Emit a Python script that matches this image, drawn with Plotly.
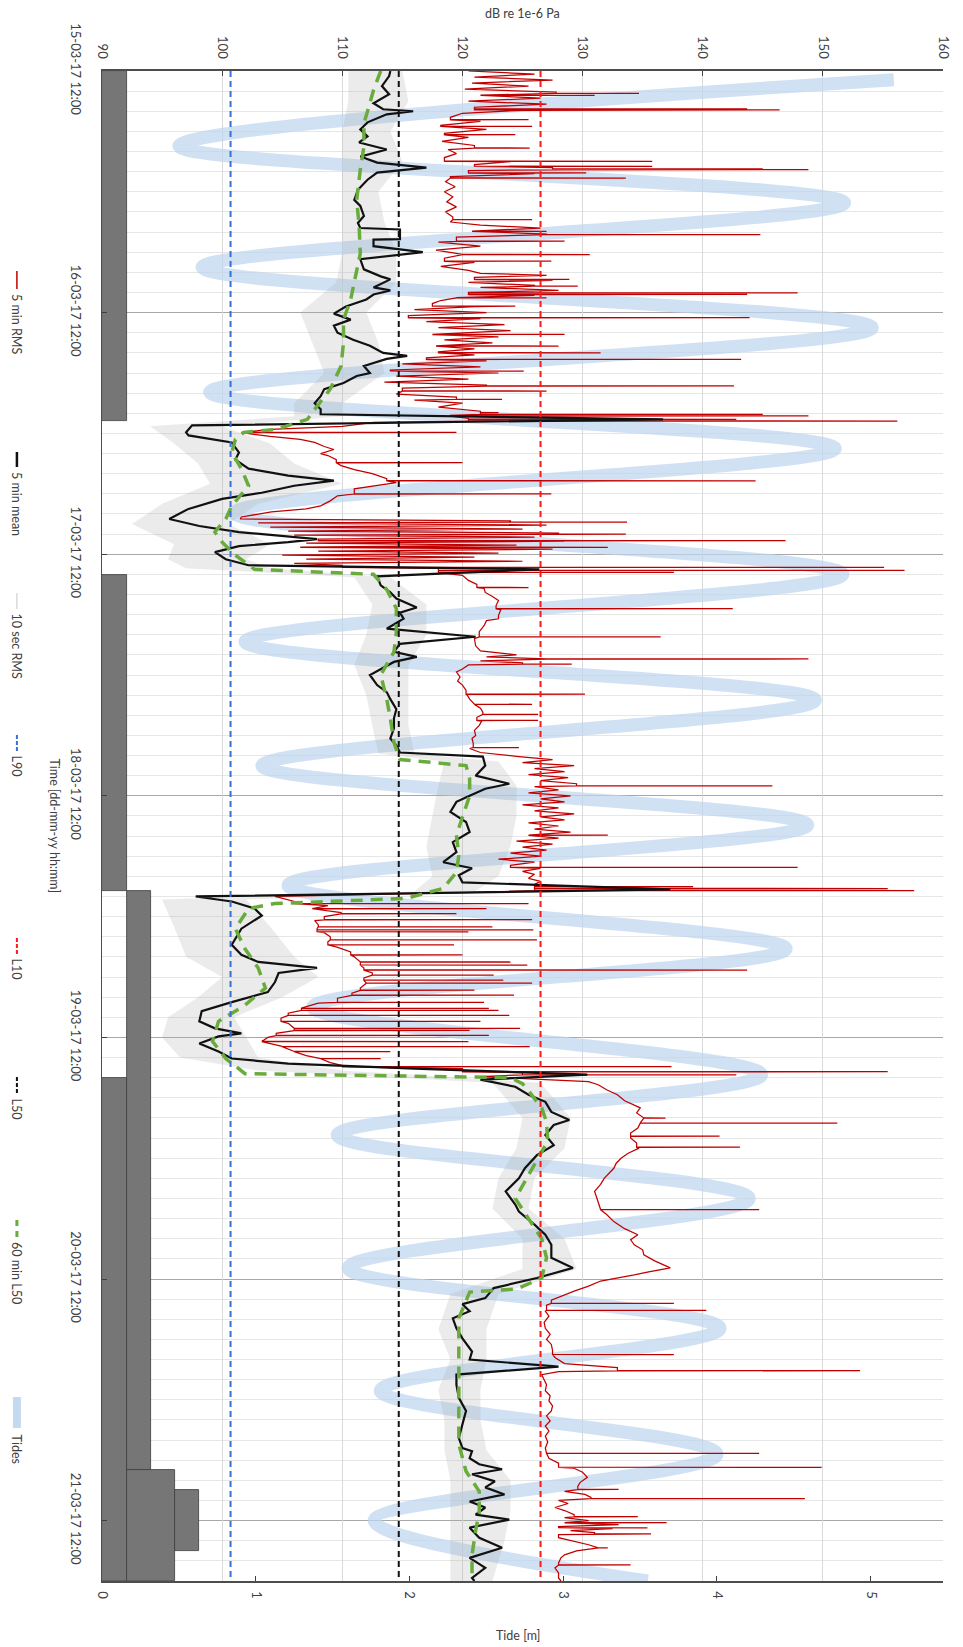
import numpy as np
import pandas as pd
import plotly.graph_objects as go
from bisect import bisect_right

# ---------------------------------------------------------------- time base
T0 = pd.Timestamp("2017-03-15 12:00")
T_END_H = 150.0

day_tick_hours = [0, 24, 48, 72, 96, 120, 144]
day_tick_labels = ["15-03-17 12:00", "16-03-17 12:00", "17-03-17 12:00", "18-03-17 12:00",
                   "19-03-17 12:00", "20-03-17 12:00", "21-03-17 12:00"]
db_ticks = [90, 100, 110, 120, 130, 140, 150, 160]
tide_ticks = [0, 1, 2, 3, 4, 5]

# ---------------------------------------------------------------- statistics levels (dB)
L90 = 100.7
L50 = 114.7
L10 = 126.5

# ---------------------------------------------------------------- 5 min mean (hours after start, dB)
mean_hours = [0.0, 0.5, 1.5, 2.3, 3.2, 3.8, 4.0, 4.3, 5.1, 5.8, 6.5, 7.1, 7.8, 8.5, 9.1, 9.6, 10.1, 10.8,
              11.8, 12.8, 13.4, 14.4, 15.1, 15.6, 15.74, 16.7, 16.75, 17.4, 18.0, 18.7, 19.7, 20.4, 20.7,
              21.5, 21.8, 22.2, 22.7, 23.4, 24.1, 24.7, 25.3, 26.0, 26.7, 27.3, 28.0, 28.3, 28.6, 29.3,
              30.0, 30.3, 31.0, 31.6, 32.3, 33.0, 33.6, 34.1, 34.6, 35.2,
              35.9, 36.2, 36.9, 37.9, 38.6, 39.5, 40.2, 40.7, 41.2, 41.9, 42.5, 43.5, 44.5, 45.2, 45.8,
              46.5, 46.8, 47.2, 47.8, 48.5, 49.1, 49.5, 50.2, 51.1, 51.8, 52.4, 53.3, 53.8, 54.4, 55.4,
              56.2, 56.9, 57.7, 58.2, 58.7, 59.4, 60.0, 61.0, 61.7, 62.4, 63.4, 64.3, 65.3, 66.3, 67.0,
              67.7, 68.1, 69.0, 70.0, 70.8, 71.3, 72.0,
              72.6, 73.6, 74.6, 75.6, 76.6, 77.6, 78.6, 79.2, 79.9, 80.6, 81.3, 82.0, 82.5, 83.2, 83.9,
              85.2, 86.8, 87.8, 88.5, 89.1, 89.6, 90.5, 91.5, 92.5, 93.4, 94.4, 95.1, 95.6, 95.9, 96.6,
              97.4, 98.1, 98.6, 99.1, 99.7, 100.2, 100.9, 101.7, 102.4, 103.4, 104.2, 104.7, 105.7,
              106.7, 107.7, 109.0, 110.0, 111.3, 112.6, 113.3, 114.6, 115.6, 116.6, 117.9, 118.9,
              119.9, 120.9, 121.9, 122.5, 123.2, 123.9, 124.9, 125.9, 127.2, 128.0, 128.7, 129.5,
              130.5, 131.8, 133.1, 134.5, 135.8, 136.8, 137.1, 137.8, 138.4, 138.9, 139.4, 140.1,
              140.7, 141.4, 142.1, 142.7, 143.4, 143.9, 144.7, 145.7, 146.7, 147.7, 148.7, 149.7, 150.0]
mean_db = [114.0, 113.9, 113.3, 113.9, 112.6, 113.4, 115.9, 113.7, 112.1, 111.5, 112.1, 111.4, 113.7, 111.5,
           112.9, 117.0, 112.9, 112.1, 111.3, 111.0, 111.5, 111.8, 111.3, 111.5, 114.8, 114.8, 112.6, 112.6,
           116.7, 111.5, 111.8, 113.2, 114.0, 112.6, 114.0, 112.6, 112.0, 110.3, 109.3, 110.7, 109.3, 109.6,
           110.9, 112.3, 113.4, 115.4, 113.7, 111.8, 112.3, 111.2, 110.1, 108.5, 108.2, 107.7, 108.2, 108.2,
           136.7, 97.5,
           97.0, 97.2, 100.8, 101.4, 101.1, 102.2, 105.5, 109.3, 106.0, 103.3, 100.0, 97.2, 95.6, 98.1, 101.4,
           107.9, 105.5, 101.4, 99.4, 100.3, 102.2, 126.4, 112.9, 113.2, 114.0, 114.5, 116.2, 114.8, 115.1,
           113.7, 121.1, 114.8, 114.3, 116.2, 114.3, 113.2, 112.3, 112.9, 113.7, 114.0, 114.5, 114.3, 114.3,
           114.0, 114.5, 114.8, 121.7, 121.9, 121.1, 123.9, 121.9, 120.6,
           119.5, 119.0, 120.3, 120.6, 119.2, 119.5, 118.4, 120.8, 119.7, 120.0, 137.3, 97.8, 100.8, 102.7,
           103.3, 101.6, 100.8, 101.6, 103.0, 107.9, 104.7, 104.4, 103.8, 100.8, 98.3, 98.1, 99.4, 101.6,
           99.7, 98.1, 99.7, 100.8, 105.5, 116.0, 130.4, 121.5, 124.4, 125.5, 126.9, 127.4, 128.9, 127.6,
           126.9, 127.6, 126.2, 125.2, 124.7, 123.6, 124.4, 124.7, 126.0, 126.9, 127.4, 127.4, 129.2, 126.2,
           122.6, 121.9, 120.0, 120.6, 119.2, 119.5, 120.0, 120.8, 120.6, 128.0, 119.5, 119.5, 119.7, 120.3,
           120.0, 119.7, 120.0, 120.8, 120.6, 121.4, 123.3, 120.8, 122.7, 121.9, 123.5, 120.6, 121.9, 121.1,
           123.9, 120.6, 121.4, 123.3, 120.6, 121.9, 120.8, 121.0]

# ---------------------------------------------------------------- 60 min L50
l50_hours = [0.0, 1.9, 3.2, 5.2, 7.5, 9.8, 12.8, 15.4, 18.1, 20.0, 22.7, 24.7, 27.0, 29.3, 31.6, 33.3, 34.6,
             35.6, 35.9, 36.6, 37.9, 39.5, 41.2, 43.2, 44.5, 45.8, 46.8, 48.1, 49.5, 50.0, 51.5, 53.4, 55.8,
             57.7, 60.0, 62.4, 64.3, 66.7, 68.4, 69.0, 70.3, 72.0, 74.0, 75.9, 77.9, 79.6, 81.2, 82.2, 82.7,
             83.2, 85.2, 87.2, 89.1, 91.1, 92.8, 94.4, 96.4, 98.1, 99.6, 100.0, 100.6, 101.0, 103.0, 104.4,
             106.3, 108.0, 110.0, 112.0, 114.0, 116.0, 117.9, 119.9, 121.0, 121.3, 123.9, 126.5, 129.8,
             133.1, 136.4, 139.1, 141.1, 143.1, 145.0, 147.4, 149.7, 150.0]
l50_db = [113.2, 112.6, 112.3, 111.8, 111.8, 111.5, 111.2, 111.4, 111.5, 111.2, 110.7, 110.1, 110.1, 109.9,
          109.0, 107.9, 107.1, 104.5, 101.8, 101.1, 100.8, 101.6, 102.2, 100.8, 100.3, 99.4, 100.0, 101.1,
          102.7, 112.6, 113.7, 114.5, 114.5, 114.3, 113.2, 113.7, 114.0, 114.3, 114.8, 120.3, 120.6, 120.6,
          120.0, 119.5, 119.7, 119.5, 118.4, 115.3, 104.4, 102.2, 101.1, 101.9, 103.0, 103.6, 101.9, 99.7,
          99.2, 100.3, 101.9, 124.0, 125.0, 125.3, 126.6, 127.0, 127.1, 126.3, 125.3, 124.4, 125.5, 126.6,
          127.0, 126.6, 124.5, 120.6, 119.7, 119.7, 119.7, 119.7, 119.7, 120.3, 121.4, 121.4, 121.1, 120.8,
          120.8, 120.8]

# ---------------------------------------------------------------- 10 sec RMS envelope
rms10_hours = [0, 3, 6, 9, 12, 15, 18, 21, 24, 27, 30, 33, 34.3, 35.3, 37, 39, 41, 43, 45, 47, 48.5, 49.4,
               50.3, 53, 56, 59, 62, 65, 67.8, 68.6, 71, 74, 77, 80, 81.5, 82.3, 85, 88, 90, 92, 94, 96, 98,
               99.3, 100.5, 104, 107, 110, 113, 116, 119, 121.5, 125, 128, 131, 134, 137, 140, 143, 146, 150]
rms10_low = [110.5, 110.5, 110.0, 110.0, 110.0, 110.0, 110.0, 109.5, 106.5, 107.5, 108.5, 106.0, 106.0, 94.0,
             96.0, 98.0, 99.0, 95.0, 92.5, 96.0, 95.5, 97.0, 111.0, 112.5, 112.0, 111.0, 112.0, 112.5, 113.0,
             118.5, 118.0, 117.5, 117.0, 117.5, 116.0, 95.0, 96.0, 97.0, 100.0, 98.0, 95.5, 95.0, 96.5, 103.0,
             122.5, 125.0, 124.5, 123.0, 122.5, 125.0, 125.0, 119.0, 118.0, 119.0, 118.0, 118.5, 118.5, 119.0,
             119.0, 119.0, 119.0]
rms10_high = [115.0, 115.5, 114.0, 115.0, 113.0, 113.5, 114.5, 114.5, 112.0, 113.0, 113.5, 110.0, 110.0, 100.0,
              104.0, 106.0, 110.0, 103.0, 100.5, 104.0, 102.0, 104.0, 114.0, 117.0, 117.0, 115.5, 115.5, 115.5,
              116.0, 123.0, 124.5, 124.5, 124.0, 123.0, 121.0, 102.0, 104.0, 106.0, 108.0, 105.0, 101.0, 102.0,
              103.0, 110.0, 126.5, 129.0, 128.5, 126.0, 125.5, 128.5, 129.5, 123.0, 122.0, 122.0, 121.5, 121.5,
              122.0, 124.0, 124.0, 123.5, 122.5]

# ---------------------------------------------------------------- 5 min RMS: running level
rms5_hours = [0.0, 0.3, 0.6, 0.9, 1.2, 1.5, 1.8, 2.1, 2.4, 2.7, 3.0, 3.3, 3.6, 3.9, 4.2, 4.6, 5.0, 5.4, 5.8,
              6.2, 6.6, 7.0, 7.4, 7.8, 8.2, 8.6, 9.0, 9.3, 9.6, 9.9, 10.2, 10.5, 11.0, 11.5, 12.0, 12.5, 13.0,
              13.5, 14.0, 14.5, 15.0, 15.3, 15.6, 15.9, 16.2, 16.5, 17.0, 17.4, 17.8, 18.2, 18.6, 19.0, 19.4,
              19.8, 20.1, 20.3, 20.5, 20.8, 21.0, 21.3, 21.5, 21.8, 22.0, 22.3, 22.5, 22.8, 23.1, 23.4, 23.7,
              24.0, 24.3, 24.6, 24.9, 25.2, 25.5, 25.8, 26.1, 26.4, 26.7, 27.0, 27.3, 27.6, 27.9, 28.2, 28.5,
              28.8, 29.1, 29.4, 29.7, 30.0, 30.3, 30.6, 30.9, 31.2, 31.5, 31.8, 32.1, 32.4, 32.7, 33.0, 33.4,
              33.8, 34.2, 34.5, 34.9, 35.3, 35.6,
              35.9, 36.3, 36.6, 36.9, 37.3, 37.6, 38.0, 38.2, 38.6, 39.2, 39.6, 40.0, 40.5, 40.9, 41.2, 41.5,
              42.2, 42.7, 43.2, 43.5, 43.8, 44.3, 44.5, 44.7, 44.9, 45.1, 45.3, 45.5, 45.7, 45.9, 46.1, 46.3,
              46.5, 46.7, 46.9, 47.1, 47.3, 47.5, 47.7, 47.9, 48.1, 48.3, 48.5, 48.7, 48.9, 49.1, 49.4, 50.1,
              50.6, 51.0, 51.4, 51.8, 52.2, 52.6, 53.1, 53.5, 54.1, 54.6, 55.1, 55.7, 56.4, 57.1, 57.6, 58.0,
              58.2, 58.4, 58.6, 58.8, 59.0, 59.4, 59.7, 60.2, 60.6, 61.0, 61.5, 62.0, 62.4, 62.9, 63.3, 63.7,
              64.2, 64.6, 65.0, 65.5, 66.0, 66.3, 66.8, 67.3, 67.7, 68.1, 68.4, 68.7, 69.0, 69.3, 69.6, 69.9,
              70.2, 70.5, 70.8, 71.1, 71.4, 71.7, 72.0, 72.3, 72.6, 72.9, 73.2, 73.5, 73.8, 74.1, 74.4, 74.7,
              75.0, 75.3, 75.6, 75.9, 76.2, 76.5, 76.8, 77.1, 77.4, 77.7, 78.0, 78.3, 78.6, 78.9, 79.2, 79.5,
              79.8, 80.2, 80.5, 80.8, 81.6, 82.0, 82.5, 82.9, 83.2, 83.6, 84.0, 84.4, 84.8, 85.2, 85.6, 86.0,
              86.5, 87.0, 87.5, 88.0, 88.5, 89.1, 89.6, 90.1, 90.6, 91.1, 91.6, 92.1, 92.6, 93.1, 93.6, 94.1,
              94.6, 95.1, 95.6, 96.0, 96.4, 96.9, 97.4, 97.8, 98.1, 98.5, 98.8, 99.1, 99.5, 99.9, 100.4, 100.7,
              101.2, 101.7, 102.3, 103.0, 103.5, 104.0, 104.5, 105.0, 105.5, 106.0, 106.5, 107.0, 107.5, 108.0,
              108.5, 109.0, 109.5, 110.0, 110.6, 111.3, 112.0, 113.0, 113.6, 114.3, 115.0, 115.6, 116.1, 116.6,
              117.1, 117.6, 118.2, 118.9, 119.3, 119.6, 120.2, 120.7, 121.2, 121.6, 122.1, 122.6, 123.2, 123.7,
              124.3, 124.9, 125.5, 126.0, 126.5, 127.1, 127.8, 128.4, 128.8, 129.2, 129.5, 130.0, 130.5, 131.1,
              131.6, 132.1, 132.6, 133.1, 133.6, 134.1, 134.6, 135.1, 135.6, 136.2, 136.8, 137.3, 137.8, 138.3,
              138.8, 139.2, 139.7, 140.2, 140.6, 141.1, 141.4, 141.7, 142.0, 142.3, 142.7, 143.0, 143.4, 143.7,
              144.0, 144.2, 144.4, 144.6, 144.8, 145.0, 145.2, 145.4, 145.7, 146.1, 146.4, 146.7, 147.0, 147.4,
              147.7, 148.2, 148.7, 149.2, 149.7, 150.0]
rms5_db = [120.5, 126.0, 121.0, 127.5, 120.8, 125.5, 120.2, 127.8, 121.5, 126.5, 120.5, 127.0, 121.0, 125.0,
           120.0, 119.0, 121.5, 118.2, 122.0, 118.5, 120.5, 118.3, 121.0, 118.8, 119.5, 118.5, 124.0, 121.0,
           127.5, 120.5, 126.0, 119.0, 118.6, 119.4, 118.5, 119.2, 118.7, 119.5, 118.6, 119.2, 119.0, 121.5,
           126.5, 120.8, 127.0, 119.5, 118.0, 121.5, 117.8, 120.0, 118.5, 121.0, 118.2, 120.5, 121.5, 127.0,
           121.0, 127.5, 120.5, 126.0, 121.5, 128.0, 120.5, 126.0, 119.5, 118.2, 117.5, 121.0, 116.0, 122.0,
           115.5, 121.5, 117.0, 123.5, 118.0, 124.0, 117.5, 123.0, 118.5, 122.5, 117.8, 121.0, 118.0, 121.0,
           117.0, 122.0, 115.0, 121.5, 114.0, 123.0, 114.5, 120.5, 113.5, 122.0, 115.0, 121.0, 114.5, 119.5,
           116.0, 120.0, 118.0, 121.5, 119.0, 120.5, 112.6, 110.0, 104.0,
           101.6, 104.0, 106.5, 107.7, 108.5, 109.3, 108.2, 108.8, 109.5, 109.9, 111.0, 112.5, 113.7, 114.5,
           112.5, 111.0, 109.6, 109.0, 108.2, 107.0, 104.1, 101.6, 101.5, 124.0, 103.0, 127.0, 104.0, 125.0,
           105.5, 128.0, 106.0, 126.0, 108.0, 128.5, 107.0, 124.5, 106.5, 127.5, 108.0, 123.0, 105.0, 121.0,
           107.0, 125.0, 106.0, 110.0, 118.0, 120.0, 120.5, 121.2, 121.8, 121.9, 122.5, 123.0, 122.8, 123.2,
           123.0, 122.0, 121.8, 121.4, 121.0, 121.1, 121.5, 124.5, 122.0, 127.0, 121.5, 125.0, 120.5, 120.0,
           119.5, 119.8, 119.6, 120.0, 120.3, 120.4, 120.6, 121.0, 121.5, 121.7, 121.2, 121.6, 121.4, 121.0,
           121.1, 120.8, 120.9, 120.6, 121.5, 124.7, 127.5, 125.0, 129.3, 126.0, 128.5, 125.5, 128.8, 126.5,
           129.5, 126.0, 128.0, 125.5, 129.0, 126.5, 128.5, 125.0, 128.0, 126.0, 129.3, 126.5, 128.5, 125.5,
           128.0, 126.0, 129.0, 125.5, 128.0, 124.5, 127.5, 125.0, 127.0, 124.0, 126.5, 123.0, 126.0, 124.0,
           126.5, 125.0, 126.0, 125.5, 126.5, 126.0, 121.0, 104.4, 106.0, 108.8, 107.5, 109.9, 108.5, 107.7,
           108.0, 107.9, 108.5, 109.0, 108.8, 109.5, 110.7, 111.0, 111.5, 111.8, 112.5, 111.8, 112.0, 111.5,
           110.8, 109.6, 108.0, 106.6, 105.5, 104.9, 105.5, 106.0, 104.5, 103.8, 103.3, 105.0, 106.0, 107.0,
           108.2, 109.0, 110.0, 120.0, 125.0, 121.5, 130.5, 131.3, 132.0, 132.9, 133.5, 134.8, 134.5, 135.1,
           134.8, 134.6, 134.0, 134.0, 134.5, 134.7, 133.8, 133.2, 132.8, 132.6, 132.2, 131.8, 131.5, 131.0,
           131.2, 131.5, 132.0, 132.6, 133.5, 134.6, 134.0, 134.3, 135.0, 135.1, 136.0, 137.3, 135.5, 134.3,
           131.5, 130.5, 129.3, 128.5, 127.4, 127.0, 126.9, 127.2, 126.8, 126.9, 127.3, 127.0, 127.4, 127.5,
           127.7, 128.5, 132.9, 128.0, 126.6, 126.8, 127.0, 126.9, 127.3, 127.2, 127.5, 127.4, 127.0, 127.3,
           126.9, 127.2, 126.9, 127.1, 126.9, 127.0, 127.2, 128.0, 129.3, 130.0, 130.4, 129.8, 129.6, 128.5,
           130.2, 130.7, 128.0, 128.8, 127.7, 128.5, 129.3, 128.5, 130.5, 128.5, 133.0, 128.0, 132.5, 129.0,
           131.0, 128.0, 128.0, 129.5, 130.5, 131.3, 129.5, 128.5, 128.2, 128.0, 127.7, 128.0, 128.0, 128.2]

# ---------------------------------------------------------------- 5 min RMS: short events (hours, peak dB)
event_hours = [2.2, 2.4, 3.75, 3.85, 4.83, 5.49, 6.32, 7.64, 8.96, 9.46, 9.7, 9.79, 10.12, 10.62, 14.75,
               15.91, 16.24, 16.9, 18.22, 18.88, 20.7, 21.36, 22.02, 22.19, 22.52, 23.35, 24.5, 26.16, 27.31,
               27.98, 28.64, 29.8, 31.28, 31.78, 32.6, 33.93, 34.1, 34.26, 34.59, 34.76,
               35.9, 38.9, 40.7, 42.0, 44.8, 46.0, 46.65, 47.3, 49.3, 49.6, 49.8, 51.3, 53.4, 54.4, 56.2,
               58.4, 58.9, 61.9, 62.9, 63.9, 64.5, 67.2, 71.0,
               75.9, 79.1, 81.0, 81.2, 81.4, 82.7, 83.2, 83.7, 84.3, 85.0, 85.3, 85.5, 86.3, 86.8, 87.8,
               88.5, 88.8, 89.3, 89.8, 90.3, 90.6, 91.3, 91.8, 92.5, 93.1, 93.3, 93.8, 94.4, 95.1, 95.3,
               95.8, 96.4, 96.9, 97.4, 98.1, 98.9, 99.4, 99.7, 104.0, 104.5, 105.8, 106.9,
               113.1, 122.4, 123.1, 127.5, 129.1, 137.3, 138.7, 140.9, 141.8, 143.6, 144.2, 144.7, 145.3,
               146.7, 148.4]
event_db = [134.7, 131.0, 143.7, 146.4, 125.5, 125.8, 124.4, 125.6, 135.8, 135.8, 145.0, 148.8, 130.3, 133.6,
            125.8, 127.0, 144.8, 128.5, 130.6, 127.4, 128.9, 129.6, 147.9, 143.7, 127.0, 124.4, 143.9, 128.5,
            128.0, 131.5, 143.2, 125.1, 142.6, 127.0, 123.3, 123.0, 145.0, 148.8, 142.8, 156.2,
            119.5, 120.0, 144.4, 127.4, 133.7, 133.6, 146.9, 132.1, 155.1, 156.8, 137.6, 125.5, 142.5, 123.0,
            136.5, 148.8, 129.1, 130.2, 125.8, 126.3, 126.3, 124.7, 145.8,
            132.1, 147.9, 139.2, 155.4, 157.6, 125.5, 122.0, 119.5, 125.8, 122.5, 125.9, 120.5, 126.2, 119.3,
            120.0, 124.0, 125.4, 143.7, 122.6, 123.4, 125.8, 121.0, 124.3, 121.8, 122.2, 123.0, 123.9, 121.5,
            124.8, 120.6, 122.2, 120.5, 125.6, 114.0, 113.2, 137.4, 155.4, 142.8, 136.9, 151.2, 141.4, 143.1,
            144.7, 137.6, 140.3, 137.6, 153.1, 144.7, 149.9, 133.0, 148.5, 134.6, 137.0, 135.4, 135.7,
            132.1, 134.0]

# ---------------------------------------------------------------- tide extremes (hours, m)
tide_hours = [0.86, 7.47, 13.1, 19.5, 25.5, 31.9, 37.5, 43.9, 50.0, 56.7, 62.5, 69.0, 74.9, 80.9, 87.2, 93.0,
              99.7, 105.7, 112.0, 118.9, 124.9, 131.1, 137.4, 144.0, 150.0]
tide_m = [5.15, 0.50, 4.83, 0.65, 5.01, 0.70, 4.77, 0.86, 4.82, 0.93, 4.64, 1.04, 4.59, 1.21, 4.45, 1.37,
          4.29, 1.53, 4.21, 1.60, 4.02, 1.81, 4.00, 1.77, 3.55]

# ---------------------------------------------------------------- grey blocks on the tide scale
block_start = [0.0, 50.06, 100.0, 81.5, 139.0, 141.0]
block_end = [34.75, 81.5, 150.0, 139.0, 150.0, 147.0]
block_base = [0.0, 0.0, 0.0, 0.16, 0.16, 0.476]
block_size = [0.16, 0.16, 0.16, 0.16, 0.316, 0.155]


def at(hours):
    return [T0 + pd.Timedelta(hours=float(h)) for h in hours]


# merge the short events into the running 5 min RMS level
pts = list(zip(rms5_hours, rms5_db))
for h, peak in zip(event_hours, event_db):
    foot = rms5_db[max(bisect_right(rms5_hours, h) - 1, 0)]
    pts += [(h, foot), (h + 0.01, peak), (h + 0.02, foot)]
pts.sort(key=lambda p: p[0])
rms5_all_h = [p[0] for p in pts]
rms5_all_db = [p[1] for p in pts]

RED = "#c00000"
BLACK = "#111111"
GREEN = "#6aab3e"
BLUE = "#3a6fd6"
LRED = "#ff1a1a"
TIDE = "rgba(190,214,238,0.72)"
GREY_BAND = "rgba(170,170,170,0.24)"
BAR = "#767676"

fig = go.Figure()

# blocks (tide scale, bottom axis)
for s, e, b, v in zip(block_start, block_end, block_base, block_size):
    mid = T0 + pd.Timedelta(hours=(s + e) / 2)
    fig.add_trace(go.Bar(orientation="h", y=[mid], x=[v], base=[b],
                         width=[(e - s) * 3600 * 1000], xaxis="x", yaxis="y",
                         marker=dict(color=BAR, line=dict(color="#3c3c3c", width=0.8)),
                         hoverinfo="skip", showlegend=False))

# tides
fig.add_trace(go.Scatter(x=tide_m, y=at(tide_hours), mode="lines", name="Tides",
                         line=dict(color=TIDE, width=13, shape="spline", smoothing=1.0),
                         xaxis="x", yaxis="y"))

# 10 sec RMS envelope
fig.add_trace(go.Scatter(x=rms10_low + rms10_high[::-1],
                         y=at(rms10_hours) + at(rms10_hours[::-1]),
                         mode="lines", fill="toself", fillcolor=GREY_BAND,
                         line=dict(width=0, color=GREY_BAND), name="10 sec RMS",
                         xaxis="x2", yaxis="y"))

fig.add_trace(go.Scatter(x=rms5_all_db, y=at(rms5_all_h), mode="lines", name="5 min RMS",
                         line=dict(color=RED, width=1.25), xaxis="x2", yaxis="y"))
fig.add_trace(go.Scatter(x=mean_db, y=at(mean_hours), mode="lines", name="5 min mean",
                         line=dict(color=BLACK, width=2.2), xaxis="x2", yaxis="y"))
fig.add_trace(go.Scatter(x=l50_db, y=at(l50_hours), mode="lines", name="60 min L50",
                         line=dict(color=GREEN, width=3.5, dash="12px,8px"), xaxis="x2", yaxis="y"))

span = at([0, T_END_H])
for val, col, nm in [(L90, BLUE, "L90"), (L10, LRED, "L10"), (L50, BLACK, "L50")]:
    fig.add_trace(go.Scatter(x=[val, val], y=span, mode="lines", name=nm,
                             line=dict(color=col, width=2, dash="6px,4px"), xaxis="x2", yaxis="y"))

# ---------------------------------------------------------------- layout
PL, PR, PT, PB = 102, 952, 71, 1581
W, H = 963, 1647
FONT = "Lato, 'Open Sans', sans-serif"
TXT = "#404040"


def fx(X):
    return (X - PL) / (PR - PL)


def fy(Y):
    return 1 - (Y - PT) / (PB - PT)


fig.update_layout(
    width=W, height=H,
    margin=dict(l=PL, r=W - PR, t=PT, b=H - PB),
    paper_bgcolor="white", plot_bgcolor="white",
    showlegend=False, bargap=0, barmode="overlay",
    font=dict(family=FONT, size=13, color=TXT),
    xaxis=dict(side="bottom", anchor="y", range=[0, 5.47], tickvals=tide_ticks,
               tickangle=90, ticks="inside", ticklen=5, tickcolor="#404040",
               showgrid=False, zeroline=False, showline=True, linecolor="#4d4d4d", linewidth=1.5,
               ticklabelstandoff=6),
    xaxis2=dict(side="top", overlaying="x", anchor="y", range=[90, 160], tickvals=db_ticks,
                tickangle=90, ticks="inside", ticklen=5, tickcolor="#404040",
                showgrid=True, gridcolor="#d9d9d9", gridwidth=1, zeroline=False,
                showline=True, linecolor="#4d4d4d", linewidth=1.5, ticklabelstandoff=6),
    yaxis=dict(type="date", range=[T0 + pd.Timedelta(hours=T_END_H), T0],
               tickvals=at(day_tick_hours), ticktext=day_tick_labels, tickangle=90,
               ticks="inside", ticklen=5, tickcolor="#404040",
               showgrid=True, gridcolor="#a8a8a8", gridwidth=1, zeroline=False,
               showline=True, linecolor="#4d4d4d", linewidth=1, ticklabelstandoff=14,
               minor=dict(tickmode="linear", tick0=T0, dtick=2 * 3600 * 1000,
                          showgrid=True, gridcolor="#e6e6e6", gridwidth=1)),
)

ann = []
ann.append(dict(text="dB re 1e-6 Pa", x=0.5, y=fy(13), xref="paper", yref="paper",
                showarrow=False, font=dict(size=12.5, color=TXT), xanchor="center", yanchor="middle"))
ann.append(dict(text="Tide [m]", x=fx(522), y=fy(1635), xref="paper", yref="paper",
                showarrow=False, font=dict(size=12.5, color=TXT), xanchor="center", yanchor="middle"))
ann.append(dict(text="Time [dd-mm-yy hh:mm]", x=fx(55), y=fy(826), xref="paper", yref="paper",
                showarrow=False, textangle=90, font=dict(size=12.5, color=TXT),
                xanchor="center", yanchor="middle"))

# legend, drawn along the left edge
legend_items = [
    ("5 min RMS", 271, 289, dict(color=RED, width=1.5), 292),
    ("5 min mean", 452, 467, dict(color=BLACK, width=2.5), 470),
    ("10 sec RMS", 593, 609, dict(color="#cfcfcf", width=1.2), 612),
    ("L90", 735, 751, dict(color=BLUE, width=2, dash="4px,2px"), 754),
    ("L10", 938, 954, dict(color=LRED, width=2, dash="4px,2px"), 957),
    ("L50", 1077, 1094, dict(color=BLACK, width=2, dash="4px,2px"), 1097),
    ("60 min L50", 1220, 1238, dict(color=GREEN, width=3, dash="6px,5px"), 1240),
    ("Tides", 1397, 1428, dict(color="rgba(190,214,238,0.9)", width=8), 1433),
]
shapes = []
LX = 16
for name, y0, y1, ln, ty in legend_items:
    shapes.append(dict(type="line", xref="paper", yref="paper", x0=fx(LX), x1=fx(LX),
                       y0=fy(y0), y1=fy(y1), line=ln))
    ann.append(dict(text=name, x=fx(LX), y=fy(ty), xref="paper", yref="paper", showarrow=False,
                    textangle=90, font=dict(size=12.5, color=TXT), xanchor="center", yanchor="top"))

fig.update_layout(annotations=ann, shapes=shapes)

fig.write_html("out.html")
